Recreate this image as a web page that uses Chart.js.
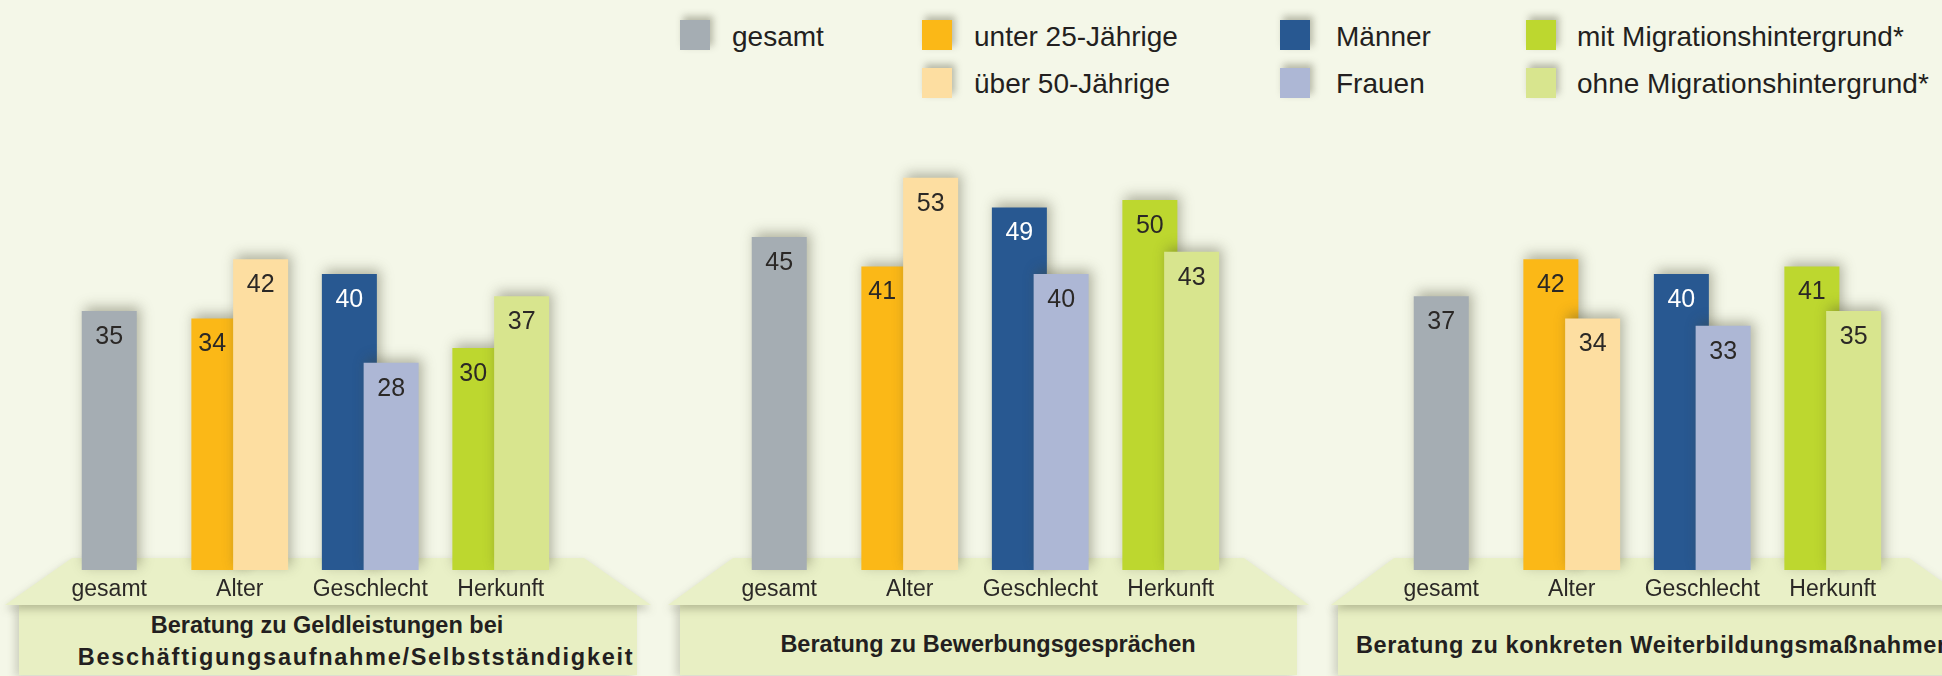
<!DOCTYPE html>
<html lang="de">
<head>
<meta charset="utf-8">
<title>Beratung nach Gruppen</title>
<script src="https://cdn.jsdelivr.net/npm/chart.js@4.4.1/dist/chart.umd.min.js"></script>
<style>
  html, body { margin: 0; padding: 0; }
  body {
    width: 1942px; height: 676px; position: relative; overflow: hidden;
    background: #f4f7e8; color: #231f20;
    font-family: "Liberation Sans", Arial, sans-serif;
  }
  .swatch { position: absolute; width: 30px; height: 30px; box-shadow: 3px -4px 7px rgba(70, 70, 45, 0.35); }
  .legend-text { position: absolute; font-size: 28px; line-height: 32px; white-space: nowrap; transform: translateY(-50%); }
  .trap-wrap { position: absolute; top: 558px; height: 47px; z-index: 2; filter: drop-shadow(0 4px 4px rgba(60, 60, 35, 0.3)); }
  .trap { position: absolute; left: 0; top: 0; width: 100%; height: 100%; background: #e9f0c7; }
  .plate { position: absolute; top: 605px; height: 70px; z-index: 1; background: #e8efc3; box-shadow: -4px 2px 8px rgba(60, 60, 35, 0.2); }
  .title { position: absolute; z-index: 4; font-weight: bold; font-size: 23.5px; line-height: 28px; white-space: nowrap; transform: translate(-50%, -50%); }
  canvas { position: absolute; z-index: 3; }
</style>
</head>
<body>

<div class="plate" style="left:19px; width:618px;"></div>
<div class="trap-wrap" style="left:5px; width:646px;"><div class="trap" style="clip-path: polygon(67px 0, 579px 0, 646px 47px, 0 47px);"></div></div>
<div class="plate" style="left:680px; width:617px;"></div>
<div class="trap-wrap" style="left:668px; width:641px;"><div class="trap" style="clip-path: polygon(65px 0, 576px 0, 641px 47px, 0 47px);"></div></div>
<div class="plate" style="left:1338px; width:640px;"></div>
<div class="trap-wrap" style="left:1331px; width:644px;"><div class="trap" style="clip-path: polygon(63px 0, 578px 0, 644px 47px, 0 47px);"></div></div>

<div class="title" style="left:327px; top:625px;">Beratung zu Geldleistungen bei</div>
<div class="title" style="left:356px; top:657px; letter-spacing:1.7px;">Beschäftigungsaufnahme/Selbstständigkeit</div>
<div class="title" style="left:988px; top:644px;">Beratung zu Bewerbungsgesprächen</div>
<div class="title" style="left:1356px; top:645px; letter-spacing:0.6px; transform: translateY(-50%);">Beratung zu konkreten Weiterbildungsmaßnahmen</div>

<div id="legend"></div>

<script>
// Werte je Panel: [Geldleistungen, Bewerbungsgespräche, Weiterbildung]
const categories = ['gesamt', 'Alter', 'Geschlecht', 'Herkunft'];
const gesamt  = [35, 45, 37];
const unter25 = [34, 41, 42];
const ueber50 = [42, 53, 34];
const maenner = [40, 49, 40];
const frauen  = [28, 40, 33];
const mitMig  = [30, 50, 41];
const ohneMig = [37, 43, 35];

const legendLabels = ['gesamt', 'unter 25-Jährige', 'über 50-Jährige', 'Männer', 'Frauen',
  'mit Migrationshintergrund*', 'ohne Migrationshintergrund*'];

// farben
const GRAY = '#a5adb3';
const ORANGE = '#fbb817';
const ORANGE_LIGHT = '#fddea1';
const BLUE = '#285891';
const BLUE_LIGHT = '#adb7d5';
const GREEN = '#bdd72f';
const GREEN_LIGHT = '#d8e58e';
const DARK = '#2b2826';

const legendColors = [GRAY, ORANGE, ORANGE_LIGHT, BLUE, BLUE_LIGHT, GREEN, GREEN_LIGHT];
// swatch x, text x, row
const legendSlots = [[680, 732, 0], [922, 974, 0], [922, 974, 1], [1280, 1336, 0], [1280, 1336, 1], [1526, 1577, 0], [1526, 1577, 1]];

const legend = document.getElementById('legend');
legendLabels.forEach((txt, i) => {
  const [sx, tx, row] = legendSlots[i];
  const sw = document.createElement('div');
  sw.className = 'swatch';
  sw.style.left = sx + 'px';
  sw.style.top = (20 + row * 48) + 'px';
  sw.style.background = legendColors[i];
  const lb = document.createElement('div');
  lb.className = 'legend-text';
  lb.style.left = tx + 'px';
  lb.style.top = (37 + row * 47) + 'px';
  lb.textContent = txt;
  legend.appendChild(sw);
  legend.appendChild(lb);
});

Chart.defaults.font.family = '"Liberation Sans", Arial, sans-serif';

const SHIFT = 0.16;     // halber Abstand der Balkenpaare (in Kategorie-Einheiten)
const PAD = 20;

const barShadow = {
  id: 'barShadow',
  beforeDatasetsDraw(chart) {
    const ctx = chart.ctx;
    ctx.save();
    ctx.shadowColor = 'rgba(70, 70, 45, 0.4)';
    ctx.shadowBlur = 12;
    ctx.shadowOffsetX = 3;
    ctx.shadowOffsetY = -4;
  },
  afterDatasetsDraw(chart) {
    chart.ctx.restore();
  }
};

const valueLabels = {
  id: 'valueLabels',
  afterDatasetsDraw(chart) {
    const ctx = chart.ctx;
    ctx.save();
    ctx.font = '25px "Liberation Sans Narrow", "Liberation Sans", sans-serif';
    ctx.textAlign = 'center';
    ctx.textBaseline = 'middle';
    chart.data.datasets.forEach((ds, di) => {
      const meta = chart.getDatasetMeta(di);
      meta.data.forEach((bar, i) => {
        let x = bar.x;
        if (ds.partner !== undefined) {
          // linker Balken: Zahl im sichtbaren Teil, falls der rechte höher ist
          const other = chart.getDatasetMeta(ds.partner).data[i];
          if (other.y < bar.y) x = (bar.x - bar.width / 2 + other.x - other.width / 2) / 2;
        }
        ctx.fillStyle = ds.labelColors[i];
        ctx.fillText(String(ds.data[i].y), x, bar.y + 26);
      });
    });
    ctx.restore();
  }
};

function makeChart(p, left) {
  const canvas = document.createElement('canvas');
  canvas.width = 522 + 2 * PAD;
  canvas.height = 484;
  canvas.style.left = (left - PAD) + 'px';
  canvas.style.top = '126px';
  document.body.appendChild(canvas);

  new Chart(canvas, {
    type: 'bar',
    data: {
      datasets: [
        {
          data: [{ x: 0, y: gesamt[p] }],
          backgroundColor: [GRAY],
          labelColors: [DARK]
        },
        {
          data: [{ x: 1 + SHIFT, y: ueber50[p] }, { x: 2 + SHIFT, y: frauen[p] }, { x: 3 + SHIFT, y: ohneMig[p] }],
          backgroundColor: [ORANGE_LIGHT, BLUE_LIGHT, GREEN_LIGHT],
          labelColors: [DARK, DARK, DARK]
        },
        {
          data: [{ x: 1 - SHIFT, y: unter25[p] }, { x: 2 - SHIFT, y: maenner[p] }, { x: 3 - SHIFT, y: mitMig[p] }],
          backgroundColor: [ORANGE, BLUE, GREEN],
          labelColors: [DARK, '#ffffff', DARK],
          partner: 1
        }
      ]
    },
    options: {
      responsive: false,
      animation: false,
      devicePixelRatio: 1,
      events: [],
      layout: { padding: { left: PAD, right: PAD, top: 0, bottom: 0 } },
      datasets: {
        bar: { grouped: false, categoryPercentage: 1, barPercentage: 2, maxBarThickness: 55, borderWidth: 0, clip: false }
      },
      plugins: { legend: { display: false }, tooltip: { enabled: false } },
      scales: {
        x: {
          type: 'linear', min: -0.5, max: 3.5, offset: false,
          grid: { display: false, drawTicks: false, offset: false },
          border: { display: false },
          afterBuildTicks: (axis) => { axis.ticks = categories.map((c, i) => ({ value: i })); },
          afterFit: (axis) => { axis.height = 40; },
          ticks: {
            callback: (v) => categories[v],
            padding: 6,
            color: DARK,
            font: { size: 23 },
            maxRotation: 0,
            autoSkip: false
          }
        },
        y: { display: false, min: 0, max: 60 }
      }
    },
    plugins: [barShadow, valueLabels]
  });
}

makeChart(0, 44);
makeChart(1, 714);
makeChart(2, 1376);
</script>
</body>
</html>
